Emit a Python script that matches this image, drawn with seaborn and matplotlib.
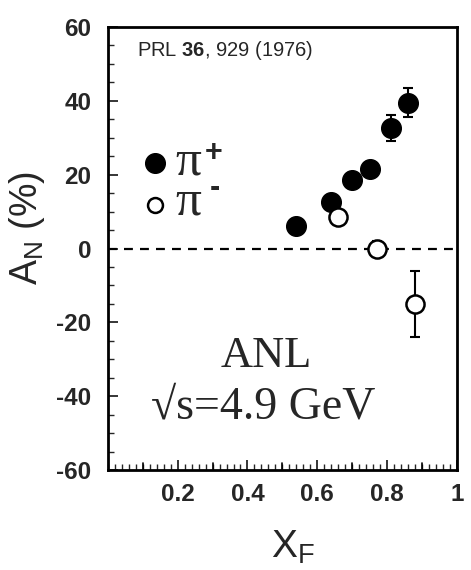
import matplotlib
matplotlib.use("Agg")
import matplotlib.pyplot as plt
import seaborn as sns
import pandas as pd
from matplotlib.ticker import MultipleLocator, FixedLocator

sns.set_style("ticks")
plt.rcParams['font.family'] = ['Liberation Sans', 'DejaVu Sans']
plt.rcParams['axes.unicode_minus'] = False
plt.rcParams['mathtext.fontset'] = 'custom'
plt.rcParams['mathtext.rm'] = 'Liberation Sans'
plt.rcParams['mathtext.bf'] = 'Liberation Sans:bold'

# Data
pip_x = [0.54, 0.64, 0.70, 0.75, 0.81, 0.86]
pip_y = [6.0, 12.5, 18.5, 21.5, 32.5, 39.5]
pip_err = [2.0, 2.0, 2.0, 2.0, 3.5, 4.0]

pim_x = [0.66, 0.77, 0.88]
pim_y = [8.5, 0.0, -15.0]
pim_err = [2.0, 2.0, 9.0]

x_ticks = [0.2, 0.4, 0.6, 0.8, 1.0]
x_ticklabels = ["0.2", "0.4", "0.6", "0.8", "1"]
y_ticks = [-60, -40, -20, 0, 20, 40, 60]

df_p = pd.DataFrame({"x": pip_x, "y": pip_y, "err": pip_err})
df_m = pd.DataFrame({"x": pim_x, "y": pim_y, "err": pim_err})

fig = plt.figure(figsize=(4.71, 5.70), dpi=100)
ax = fig.add_axes([0.229, 0.175, 0.741, 0.778])

ax.axhline(0, color="black", lw=1.6, ls=(0, (4, 3.2)), zorder=1)

ax.errorbar(df_p["x"], df_p["y"], yerr=df_p["err"], fmt="none", ecolor="black",
            elinewidth=1.5, capsize=3.5, capthick=1.5, zorder=2)
ax.errorbar(df_m["x"], df_m["y"], yerr=df_m["err"], fmt="none", ecolor="black",
            elinewidth=1.5, capsize=3.5, capthick=1.5, zorder=2)

sns.scatterplot(data=df_p, x="x", y="y", ax=ax, s=200, color="black",
                edgecolor="black", linewidth=1, zorder=3, legend=False)
sns.scatterplot(data=df_m, x="x", y="y", ax=ax, s=170, color="white",
                edgecolor="black", linewidth=1.8, zorder=3, legend=False)

ax.set_xlim(0, 1.0)
ax.set_ylim(-60, 60)
ax.xaxis.set_major_locator(FixedLocator(x_ticks))
ax.set_xticklabels(x_ticklabels)
ax.xaxis.set_minor_locator(MultipleLocator(0.02))
ax.yaxis.set_major_locator(FixedLocator(y_ticks))
ax.yaxis.set_minor_locator(MultipleLocator(5))

# unlabelled major ticks at odd tenths on x
for xv in [0.1, 0.3, 0.5, 0.7, 0.9]:
    ax.plot([xv, xv], [-60, -60 + 7 / 3.69], color="black", lw=1.2, clip_on=False, zorder=4)

ax.tick_params(axis="both", which="major", direction="in", length=7, width=1.3,
               labelsize=17.5)
ax.tick_params(axis="both", which="minor", direction="in", length=4, width=1.0)
ax.tick_params(axis="x", which="major", pad=9)
ax.tick_params(axis="y", which="major", pad=12)
for lab in ax.get_xticklabels() + ax.get_yticklabels():
    lab.set_fontweight("bold")

for sp in ax.spines.values():
    sp.set_linewidth(2.0)
    sp.set_color("black")

ax.set_xlabel("")
ax.set_ylabel("")
fig.text(0.622, 0.040, r"X$_\mathregular{F}$", fontsize=28, ha="center", va="center")
fig.text(0.058, 0.60, r"A$_\mathregular{N}$ (%)", fontsize=27, ha="center", va="center",
         rotation=90)

fig.text(0.291, 0.911, r"PRL $\mathbf{36}$, 929 (1976)", fontsize=14.5, va="center")

# legend-like labels
ax.scatter([0.136], [23.2], s=200, color="black", zorder=3)
ax.scatter([0.136], [11.8], s=115, color="white", edgecolor="black", linewidth=1.8, zorder=3)
ax.text(0.192, 6.1, "π\nπ", fontsize=37, va="bottom", ha="left",
        family="Liberation Serif", linespacing=0.82)
ax.text(0.277, 23.6, "+", fontsize=22, va="baseline", fontweight="bold")
ax.text(0.292, 14.2, "-", fontsize=22, va="baseline", fontweight="bold")

ax.text(0.455, -29.0, "ANL", fontsize=32, ha="center", va="center", family="Liberation Serif")
ax.text(0.445, -43.0, "√s=4.9 GeV", fontsize=33, ha="center", va="center",
        family="Liberation Serif")

fig.savefig("out.png", dpi=100)
